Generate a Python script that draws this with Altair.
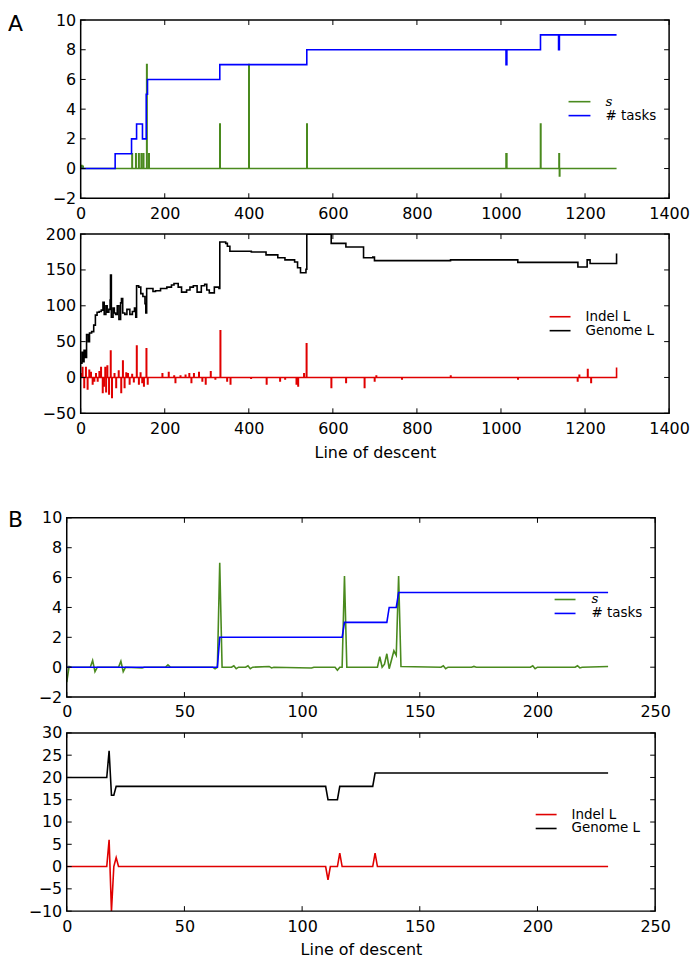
import altair as alt
import pandas as pd

FONT = "DejaVu Sans"
GREEN = "#4a8a1e"
BLUE = "#0000ff"
RED = "#e00000"
BLACK = "#000000"

# ---------------- Panel A (long line of descent) ----------------
A_END = 1275
A_TASKS_X = [0, 82, 121, 133, 147, 156, 159, 331, 538, 1012, 1014, 1094, 1137, 1139, 1275]
A_TASKS_Y = [0, 1, 2, 3, 2, 5, 6, 7, 8, 7, 8, 9, 8, 9, 9]

A_S_SPIKE_X = [2, 5, 122, 131, 138, 144, 149, 157, 162, 331, 400, 538, 1012, 1013, 1094, 1138, 1139]
A_S_SPIKE_Y = [0.2, 0.15, 1, 1, 1, 1, 1, 7, 1, 3, 7, 3, 1, 1, 3, 1, -0.5]

A_GENOME_X = [0, 3, 5, 8, 11, 14, 18, 21, 26, 31,
              35, 39, 44, 49, 53, 56, 60, 63, 67, 70,
              71, 73, 77, 80, 83, 87, 91, 95, 97, 100,
              105, 110, 117, 123, 128, 131, 133, 138, 143, 148,
              153, 155, 157, 172, 178, 190, 205, 216, 222, 232,
              240, 252, 260, 268, 277, 287, 295, 300, 306, 318,
              329, 331, 345, 349, 355, 406, 441, 469, 486, 509,
              516, 523, 536, 538, 596, 631, 673, 695, 699, 880,
              1040, 1183, 1205, 1212, 1275]
A_GENOME_Y = [20, 35, 22, 38, 28, 60, 50, 62, 64, 73,
              87, 91, 92, 94, 105, 88, 100, 91, 95, 108,
              143, 84, 97, 90, 88, 100, 81, 104, 110, 90,
              88, 95, 88, 92, 97, 84, 128, 126, 117, 113,
              103, 90, 124, 120, 121, 124, 126, 129, 131, 126,
              119, 122, 126, 128, 119, 128, 130, 122, 118, 126,
              124, 189, 187, 183, 176, 175, 171, 167, 164, 161,
              153, 146, 151, 200, 187, 182, 167, 168, 163, 164,
              160.5, 154, 164, 159, 173]

A_INDEL_SPIKE_X = [2, 4, 8, 12, 16, 20, 24, 28, 32, 36,
                   40, 44, 48, 52, 55, 58, 60, 63, 67, 71,
                   74, 80, 84, 90, 96, 100, 104, 108, 112, 116,
                   122, 126, 133, 138, 142, 146, 150, 156, 159, 194,
                   209, 222, 225, 237, 249, 258, 263, 269, 281, 289,
                   297, 309, 320, 332, 348, 356, 405, 442, 474, 486,
                   513, 517, 531, 537, 596, 631, 675, 699, 703, 764,
                   880, 1040, 1182, 1186, 1206, 1214, 1275]
A_INDEL_SPIKE_Y = [5, 14, -14, 14, -16, 10, 7, -9, -5, 5,
                   -5, 8, 14, -21, -12, 14, -20, 16, -23, 37,
                   -28, 5, -14, 9, -21, 23, -14, 6, 5, -9,
                   4, -6, 44, -9, 6, -7, -12, 40, -9, 5,
                   7, 2, -7, 2, 3, 5, -7, 5, 7, -5,
                   -9, 8, -2, 65, -5, -9, -1, -9, -5, -2,
                   -9, -12, 5, 47, -14, -7, -14, -5, 2, -2,
                   2, -2, -5, 3, 11, -7, 14]

A_X_TICKS = [0, 200, 400, 600, 800, 1000, 1200, 1400]
A1_Y_TICKS = [-2, 0, 2, 4, 6, 8, 10]
A2_Y_TICKS = [-50, 0, 50, 100, 150, 200]

# ---------------- Panel B (short line of descent) ----------------
B_S_X = [0, 1, 2, 10, 11, 12, 13, 22, 23, 24,
         25, 32, 33, 42, 43, 44, 62, 63, 64, 65,
         66, 70, 71, 72, 73, 76, 77, 78, 79, 86,
         87, 88, 104, 105, 114, 115, 116, 117, 118, 119,
         131, 132, 133, 134, 135, 136, 137, 138, 139, 140,
         141, 142, 159, 160, 161, 162, 172, 173, 174, 197,
         198, 199, 200, 216, 217, 218, 219, 230]
B_S_Y = [-1.0, 0.05, 0, 0, 0.45, -0.3, 0, 0, 0.4, -0.3,
         0, -0.05, 0, 0, 0.15, 0, 0, -0.1, 0, 7.0,
         0, 0, 0.1, -0.1, 0, 0, 0.1, -0.1, 0, 0.05,
         -0.05, 0, -0.05, 0, 0, -0.2, 0, 0, 6.1, 0,
         0, 0, 0.7, 0, 0.2, 0.9, -0.1, 0.5, 1.1, 0.8,
         6.1, 0.05, 0, 0.1, -0.1, 0, 0, 0.05, 0, 0,
         0.1, -0.1, 0, 0, 0.1, -0.05, 0, 0.05]
B_TASKS_X = [0, 64, 65, 117, 118, 136, 137, 140, 141, 230]
B_TASKS_Y = [0, 0, 2, 2, 3, 3, 4, 4, 5, 5]
B_GENOME_X = [0, 17, 18, 19, 20, 21, 110, 111, 115, 116, 130, 131, 230]
B_GENOME_Y = [20, 20, 26, 16, 16, 18, 18, 15, 15, 18, 18, 21, 21]
B_INDEL_X = [0, 17, 18, 19, 20, 21, 22, 110, 111, 112, 115, 116, 117, 130, 131, 132, 230]
B_INDEL_Y = [0, 0, 6, -10, 0, 2, 0, 0, -3, 0, 0, 3, 0, 0, 3, 0, 0]

B_X_TICKS = [0, 50, 100, 150, 200, 250]
B1_Y_TICKS = [-2, 0, 2, 4, 6, 8, 10]
B2_Y_TICKS = [-10, -5, 0, 5, 10, 15, 20, 25, 30]

X_TITLE = "Line of descent"
LETTER_Y_A = 11


def spike_series(xs, ys, end):
    d = dict(zip(xs, ys))
    px, py = [0], [0.0]
    for x in sorted(d):
        px.append(x)
        py.append(d[x])
        if x + 1 <= end and (x + 1) not in d:
            px.append(x + 1)
            py.append(0.0)
    if end not in d and px[-1] != end:
        px.append(end)
        py.append(0.0)
    return px, py


def make_panel(series, legend_rows, x0, W, H, xdom, ydom, xticks, yticks, interp,
               legend_geom, left_ext, top_ext, bottom_ext,
               letter=None, letter_y=0, xtitle=None):
    # plot frame spans x0 .. x0+W inside a group of width x0+W
    GW = x0 + W
    xs = alt.Scale(domain=xdom, range=[x0, GW], nice=False, zero=False)
    ys = alt.Scale(domain=ydom, nice=False, zero=False)
    common = dict(ticks=False, tickSize=0, domain=False, grid=False,
                  labelFlush=False, labelOverlap=False, labelFont=FONT,
                  labelFontSize=16, labelColor="black", format="d")
    xaxis = alt.Axis(values=xticks, labelPadding=7, titleFont=FONT,
                     titleFontSize=16, titleFontWeight="normal",
                     titleColor="black", titlePadding=8, **common)
    if x0:
        yaxis = alt.Axis(values=yticks, labelPadding=5, offset=-x0, **common)
    else:
        yaxis = alt.Axis(values=yticks, labelPadding=5, **common)

    def X(field):
        return alt.X(field, scale=xs, axis=xaxis, title=xtitle)

    def Y(field):
        return alt.Y(field, scale=ys, axis=yaxis, title=None)

    layers = []
    for xsv, ysv, color in series:
        df = pd.DataFrame({"x": xsv, "y": ysv})
        layers.append(
            alt.Chart(df).mark_line(color=color, strokeWidth=1.6,
                                    interpolate=interp, clip=True).encode(
                x=X("x:Q"), y=Y("y:Q"))
        )

    dxt = pd.DataFrame({"v": xticks})
    dyt = pd.DataFrame({"v": yticks})
    tk = dict(color="black", strokeWidth=1)
    layers.append(alt.Chart(dxt).mark_rule(**tk).encode(
        x=X("v:Q"), y=alt.value(0), y2=alt.value(5)))
    layers.append(alt.Chart(dxt).mark_rule(**tk).encode(
        x=X("v:Q"), y=alt.value(H - 5), y2=alt.value(H)))
    layers.append(alt.Chart(dyt).mark_rule(**tk).encode(
        y=Y("v:Q"), x=alt.value(x0), x2=alt.value(x0 + 5)))
    layers.append(alt.Chart(dyt).mark_rule(**tk).encode(
        y=Y("v:Q"), x=alt.value(GW - 5), x2=alt.value(GW)))

    # frame of the plot area
    d = pd.DataFrame({"t": [0]})
    layers.append(alt.Chart(d).mark_rect(fillOpacity=0, stroke="black", strokeWidth=1.5).encode(
        x=alt.value(x0), x2=alt.value(GW), y=alt.value(0), y2=alt.value(H)))

    lx1, lx2, tx, ry, dy = legend_geom
    for i, (label, color, italic) in enumerate(legend_rows):
        d = pd.DataFrame({"label": [label]})
        yy = ry + dy * i
        layers.append(alt.Chart(d).mark_rule(color=color, strokeWidth=1.6).encode(
            x=alt.value(x0 + lx1), x2=alt.value(x0 + lx2), y=alt.value(yy)))
        if italic:
            txt = alt.Chart(d).mark_text(align="left", baseline="middle",
                                         font="DejaVu Serif", fontStyle="italic",
                                         fontSize=13.5, color="black")
        else:
            txt = alt.Chart(d).mark_text(align="left", baseline="middle",
                                         font=FONT, fontSize=13.5, color="black")
        layers.append(txt.encode(x=alt.value(x0 + tx), y=alt.value(yy), text="label:N"))

    if letter:
        d = pd.DataFrame({"t": [letter]})
        layers.append(alt.Chart(d).mark_text(align="left", baseline="alphabetic",
                                             font=FONT, fontSize=22, color="black").encode(
            x=alt.value(left_ext), y=alt.value(letter_y), text="t:N"))

    # invisible guide that fixes this panel's extent in the stacked layout
    d = pd.DataFrame({"t": [0]})
    layers.append(alt.Chart(d).mark_rule(opacity=0, strokeWidth=0.5).encode(
        x=alt.value(left_ext), y=alt.value(-top_ext), y2=alt.value(H + bottom_ext)))

    return alt.layer(*layers).properties(width=GW, height=H)


a_s_x, a_s_y = spike_series(A_S_SPIKE_X, A_S_SPIKE_Y, A_END)
a_in_x, a_in_y = spike_series(A_INDEL_SPIKE_X, A_INDEL_SPIKE_Y, A_END)

A_SHIFT = 14  # panel A sits 14 px further right than panel B

A1 = make_panel(
    [(a_s_x, a_s_y, GREEN), (A_TASKS_X, A_TASKS_Y, BLUE)],
    [("s", GREEN, True), ("# tasks", BLUE, False)],
    A_SHIFT, 591, 179, [0, 1400], [-2, 10], A_X_TICKS, A1_Y_TICKS, "step-after",
    (490, 512, 527, 82, 14), -59, 10, 25, letter="A", letter_y=LETTER_Y_A)

A2 = make_panel(
    [(a_in_x, a_in_y, RED), (A_GENOME_X, A_GENOME_Y, BLACK)],
    [("Indel L", RED, False), ("Genome L", BLACK, False)],
    A_SHIFT, 591, 180, [0, 1400], [-50, 200], A_X_TICKS, A2_Y_TICKS, "step-after",
    (471, 492, 507, 83, 14), -59, 11, 93, xtitle=X_TITLE)

B1 = make_panel(
    [(B_S_X, B_S_Y, GREEN), (B_TASKS_X, B_TASKS_Y, BLUE)],
    [("s", GREEN, True), ("# tasks", BLUE, False)],
    0, 591, 180, [0, 250], [-2, 10], B_X_TICKS, B1_Y_TICKS, "linear",
    (490, 511, 527, 82, 14), -59, 12, 25, letter="B", letter_y=9)

B2 = make_panel(
    [(B_INDEL_X, B_INDEL_Y, RED), (B_GENOME_X, B_GENOME_Y, BLACK)],
    [("Indel L", RED, False), ("Genome L", BLACK, False)],
    0, 591, 179, [0, 250], [-10, 30], B_X_TICKS, B2_Y_TICKS, "linear",
    (471, 492, 507, 82, 14), -59, 11, 40, xtitle=X_TITLE)

chart = alt.concat(A1, A2, B1, B2, columns=1, spacing=0, align="none").properties(
    padding={"left": 0, "top": LETTER_Y_A - 11, "right": 2, "bottom": 0}
).configure(font=FONT).configure_view(stroke=None)

chart.save("out.html", embed_options={"renderer": "svg", "actions": False})
